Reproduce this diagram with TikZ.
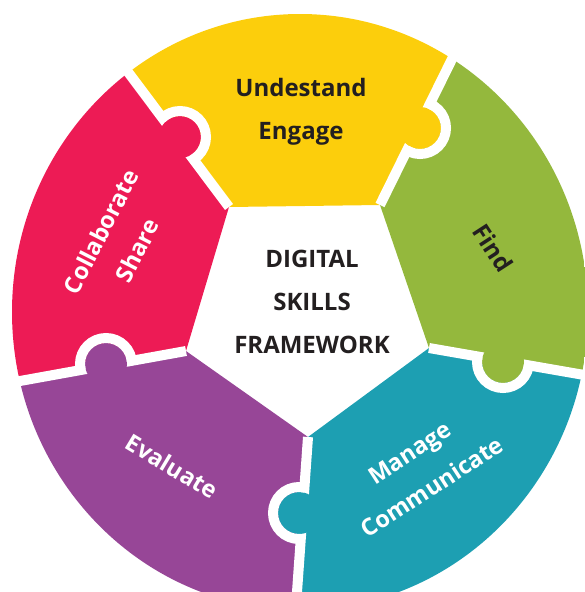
\documentclass[tikz,border=0pt]{standalone}
\usepackage{fontspec}
\setmainfont{Open Sans}
\usepackage{tikz}
\usetikzlibrary{calc}
\definecolor{pzpink}{RGB}{237,27,85}
\definecolor{pzyellow}{RGB}{252,206,12}
\definecolor{pzgreen}{RGB}{148,184,61}
\definecolor{pzteal}{RGB}{29,159,178}
\definecolor{pzpurple}{RGB}{151,70,151}
\definecolor{pzdark}{RGB}{35,31,32}

\begin{document}
\begin{tikzpicture}[x=1pt,y=-1pt,
	dark label/.style={text=pzdark,font=\fontsize{24}{43}\selectfont\bfseries,align=center},
	light label/.style={text=white,font=\fontsize{23.5}{41}\selectfont\bfseries,align=center},
	gap/.style={white,line width=10pt}]
	
	\useasboundingbox (0,0) rectangle (585,592);
	
	% pentagon corners, outer ends of the gaps, knob centres
	\coordinate (v1) at (229,207);
	\coordinate (v2) at (380,205);
	\coordinate (v3) at (429,348);
	\coordinate (v4) at (308,437);
	\coordinate (v5) at (186,351);
	\coordinate (o1) at (128,72);
	\coordinate (o2) at (453,57);
	\coordinate (o3) at (590,376);
	\coordinate (o4) at (297,592);
	\coordinate (o5) at (20,381);
	\coordinate (k1) at (180,137);
	\coordinate (k2) at (420,128);
	\coordinate (k3) at (503,362);
	\coordinate (k4) at (299,513);
	\coordinate (k5) at (106,364);
	\coordinate (f1) at ($(v1)!3!(o1)$);
	\coordinate (f2) at ($(v2)!3!(o2)$);
	\coordinate (f3) at ($(v3)!3!(o3)$);
	\coordinate (f4) at ($(v4)!3!(o4)$);
	\coordinate (f5) at ($(v5)!3!(o5)$);
	
	\begin{scope}
		\clip (300,312) ellipse [x radius=288pt, y radius=298pt];
		\fill[pzpink] (v5) -- (f5) -- (f1) -- (v1) -- cycle;
		\fill[pzyellow] (v1) -- (f1) -- (f2) -- (v2) -- cycle;
		\fill[pzgreen] (v2) -- (f2) -- (f3) -- (v3) -- cycle;
		\fill[pzteal] (v3) -- (f3) -- (f4) -- (v4) -- cycle;
		\fill[pzpurple] (v4) -- (f4) -- (f5) -- (v5) -- cycle;
	\end{scope}
	
	\draw[gap] (v1) -- (f1);
	\draw[gap] (v2) -- (f2);
	\draw[gap] (v3) -- (f3);
	\draw[gap] (v4) -- (f4);
	\draw[gap] (v5) -- (f5);
	
	% knobs
	\fill[pzpink] (k1) circle (21pt);
	\begin{scope}
		\clip (v1) -- (f1) -- (f2) -- (v2) -- cycle;
		\draw[gap] (k1) circle (26pt);
	\end{scope}
	\fill[pzyellow] (k2) circle (21pt);
	\begin{scope}
		\clip (v2) -- (f2) -- (f3) -- (v3) -- cycle;
		\draw[gap] (k2) circle (26pt);
	\end{scope}
	\fill[pzgreen] (k3) circle (21pt);
	\begin{scope}
		\clip (v3) -- (f3) -- (f4) -- (v4) -- cycle;
		\draw[gap] (k3) circle (26pt);
	\end{scope}
	\fill[pzteal] (k4) circle (21pt);
	\begin{scope}
		\clip (v4) -- (f4) -- (f5) -- (v5) -- cycle;
		\draw[gap] (k4) circle (26pt);
	\end{scope}
	\fill[pzpurple] (k5) circle (21pt);
	\begin{scope}
		\clip (v5) -- (f5) -- (f1) -- (v1) -- cycle;
		\draw[gap] (k5) circle (26pt);
	\end{scope}
	
	\node[dark label] (understand) at (301,112) {Undestand\\Engage};
	\node[dark label] (title) at (312,302) {DIGITAL\\SKILLS\\FRAMEWORK};
	\node[dark label, rotate=-57] (find) at (493,248) {Find};
	\node[light label, rotate=63] (collaborate) at (119,241) {Collaborate\\Share};
	\node[light label, rotate=-31] (evaluate) at (172,466) {Evaluate};
	\node[light label, rotate=33] (manage) at (421,470) {Manage\\Communicate};
	
\end{tikzpicture}
\end{document}
